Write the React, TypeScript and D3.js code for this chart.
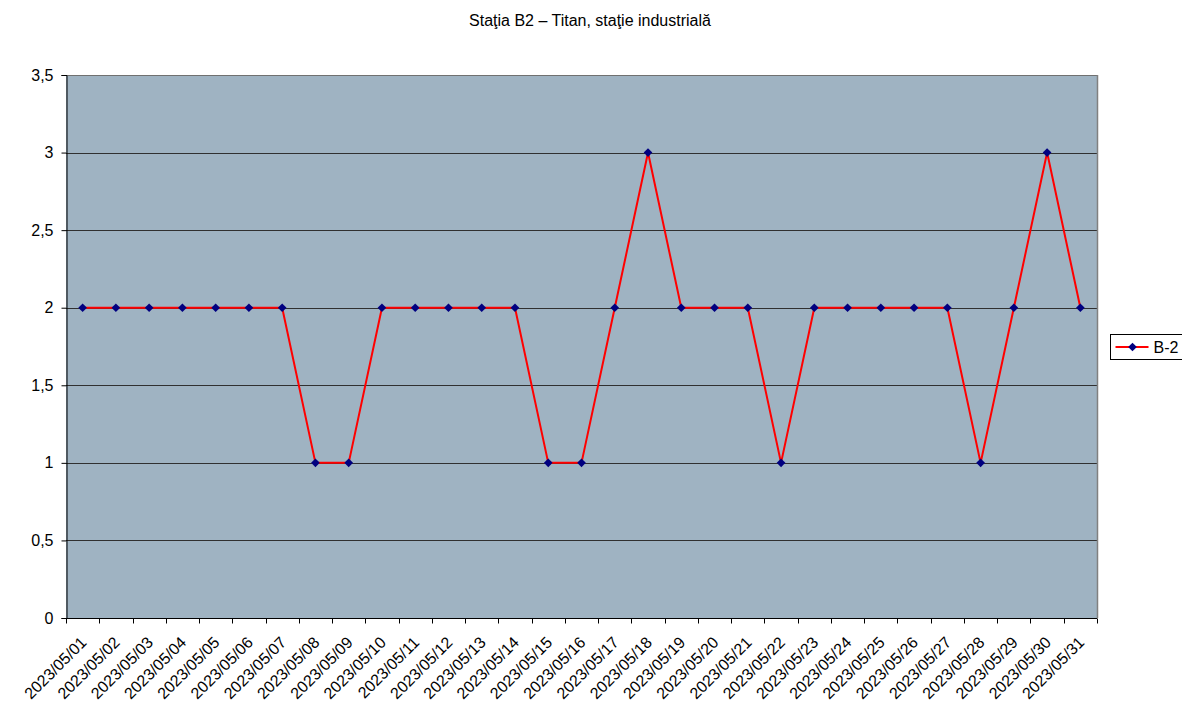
import * as d3 from "d3";
import { useEffect, useRef } from "react";

const title = "Staţia B2 – Titan, staţie industrială";
const seriesName = "B-2";
const days = Array.from({ length: 31 }, (_, i) => `2023/05/${String(i + 1).padStart(2, "0")}`);
const values = [2, 2, 2, 2, 2, 2, 2, 1, 1, 2, 2, 2, 2, 2, 1, 1, 2, 3, 2, 2, 2, 1, 2, 2, 2, 2, 2, 1, 2, 3, 2];
const yTicks = [0, 0.5, 1, 1.5, 2, 2.5, 3, 3.5];

const W = 1182;
const H = 706;
const margin = { top: 75, left: 66, right: 85, bottom: 88 };
const font = "Liberation Sans, Arial, sans-serif";

const App = () => {
  const ref = useRef<SVGSVGElement>(null);

  useEffect(() => {
    const svg = d3.select(ref.current);
    svg.selectAll("*").remove();

    const x0 = margin.left;
    const x1 = W - margin.right;
    const y0 = H - margin.bottom;
    const y1 = margin.top;

    const x = d3.scaleBand().domain(days).range([x0, x1]);
    const y = d3.scaleLinear().domain([0, 3.5]).range([y0, y1]);

    svg.append("rect")
      .attr("x", x0).attr("y", y1)
      .attr("width", x1 - x0).attr("height", y0 - y1)
      .attr("fill", "#9fb3c2");

    // grid
    svg.append("g").selectAll("line")
      .data(yTicks.filter(d => d > 0))
      .enter().append("line")
      .attr("x1", x0).attr("x2", x1)
      .attr("y1", d => Math.round(y(d)) + 0.5).attr("y2", d => Math.round(y(d)) + 0.5)
      .attr("stroke", d => (d === 3.5 ? "#707070" : "#303030"))
      .attr("stroke-width", 1);

    // right border
    svg.append("line")
      .attr("x1", x1 + 0.5).attr("x2", x1 + 0.5)
      .attr("y1", y1).attr("y2", y0)
      .attr("stroke", "#808080").attr("stroke-width", 1.5);

    const yAxis = d3.axisLeft(y).tickValues(yTicks).tickSize(5)
      .tickFormat(d => String(d).replace(".", ","));
    const gy = svg.append("g").attr("transform", `translate(${x0 + 0.5},0)`).call(yAxis);
    gy.select(".domain").attr("stroke", "#000");
    gy.selectAll(".tick line").attr("stroke", "#000");
    gy.selectAll(".tick text")
      .attr("font-family", font).attr("font-size", 16).attr("fill", "#000")
      .attr("x", -13);

    // x axis
    const gx = svg.append("g").attr("transform", `translate(0,${y0 + 0.5})`);
    gx.append("line").attr("x1", x0).attr("x2", x1).attr("stroke", "#000");
    const edges = d3.range(days.length + 1).map(i => x0 + i * x.bandwidth());
    gx.selectAll(".tk").data(edges).enter().append("line")
      .attr("x1", d => Math.round(d) + 0.5).attr("x2", d => Math.round(d) + 0.5)
      .attr("y1", 0).attr("y2", 5).attr("stroke", "#000");
    gx.selectAll("text").data(days).enter().append("text")
      .attr("transform", d => `translate(${(x(d) as number) + x.bandwidth() / 2 + 5},${25}) rotate(-45)`)
      .attr("text-anchor", "end")
      .attr("font-family", font).attr("font-size", 16).attr("fill", "#000")
      .text(d => d);

    const cx = (d: string) => (x(d) as number) + x.bandwidth() / 2;
    const line = d3.line<number>().x((_, i) => cx(days[i])).y(v => y(v));
    svg.append("path").datum(values)
      .attr("d", line).attr("fill", "none")
      .attr("stroke", "#ff0000").attr("stroke-width", 2);

    const diamond = d3.symbol().type(d3.symbolDiamond2).size(48);
    svg.append("g").selectAll("path").data(values).enter().append("path")
      .attr("d", diamond)
      .attr("transform", (v, i) => `translate(${cx(days[i])},${y(v)})`)
      .attr("fill", "#000080");

    // title
    svg.append("text")
      .attr("x", 590).attr("y", 26)
      .attr("text-anchor", "middle")
      .attr("font-family", font).attr("font-size", 16).attr("fill", "#000")
      .text(title);

    // legend
    const lg = svg.append("g").attr("transform", "translate(1110.5,334.5)");
    lg.append("rect").attr("width", 80).attr("height", 25)
      .attr("fill", "#fff").attr("stroke", "#000");
    lg.append("line").attr("x1", 5).attr("x2", 38).attr("y1", 12.5).attr("y2", 12.5)
      .attr("stroke", "#ff0000").attr("stroke-width", 2);
    lg.append("path").attr("d", diamond).attr("transform", "translate(22,12.5)").attr("fill", "#000080");
    lg.append("text").attr("x", 43).attr("y", 18.5)
      .attr("font-family", font).attr("font-size", 16).attr("fill", "#000")
      .text(seriesName);
  }, []);

  return (
    <svg ref={ref} width={W} height={H} style={{ position: "absolute", left: 0, top: 0, background: "#fff" }} />
  );
};

export default App;
